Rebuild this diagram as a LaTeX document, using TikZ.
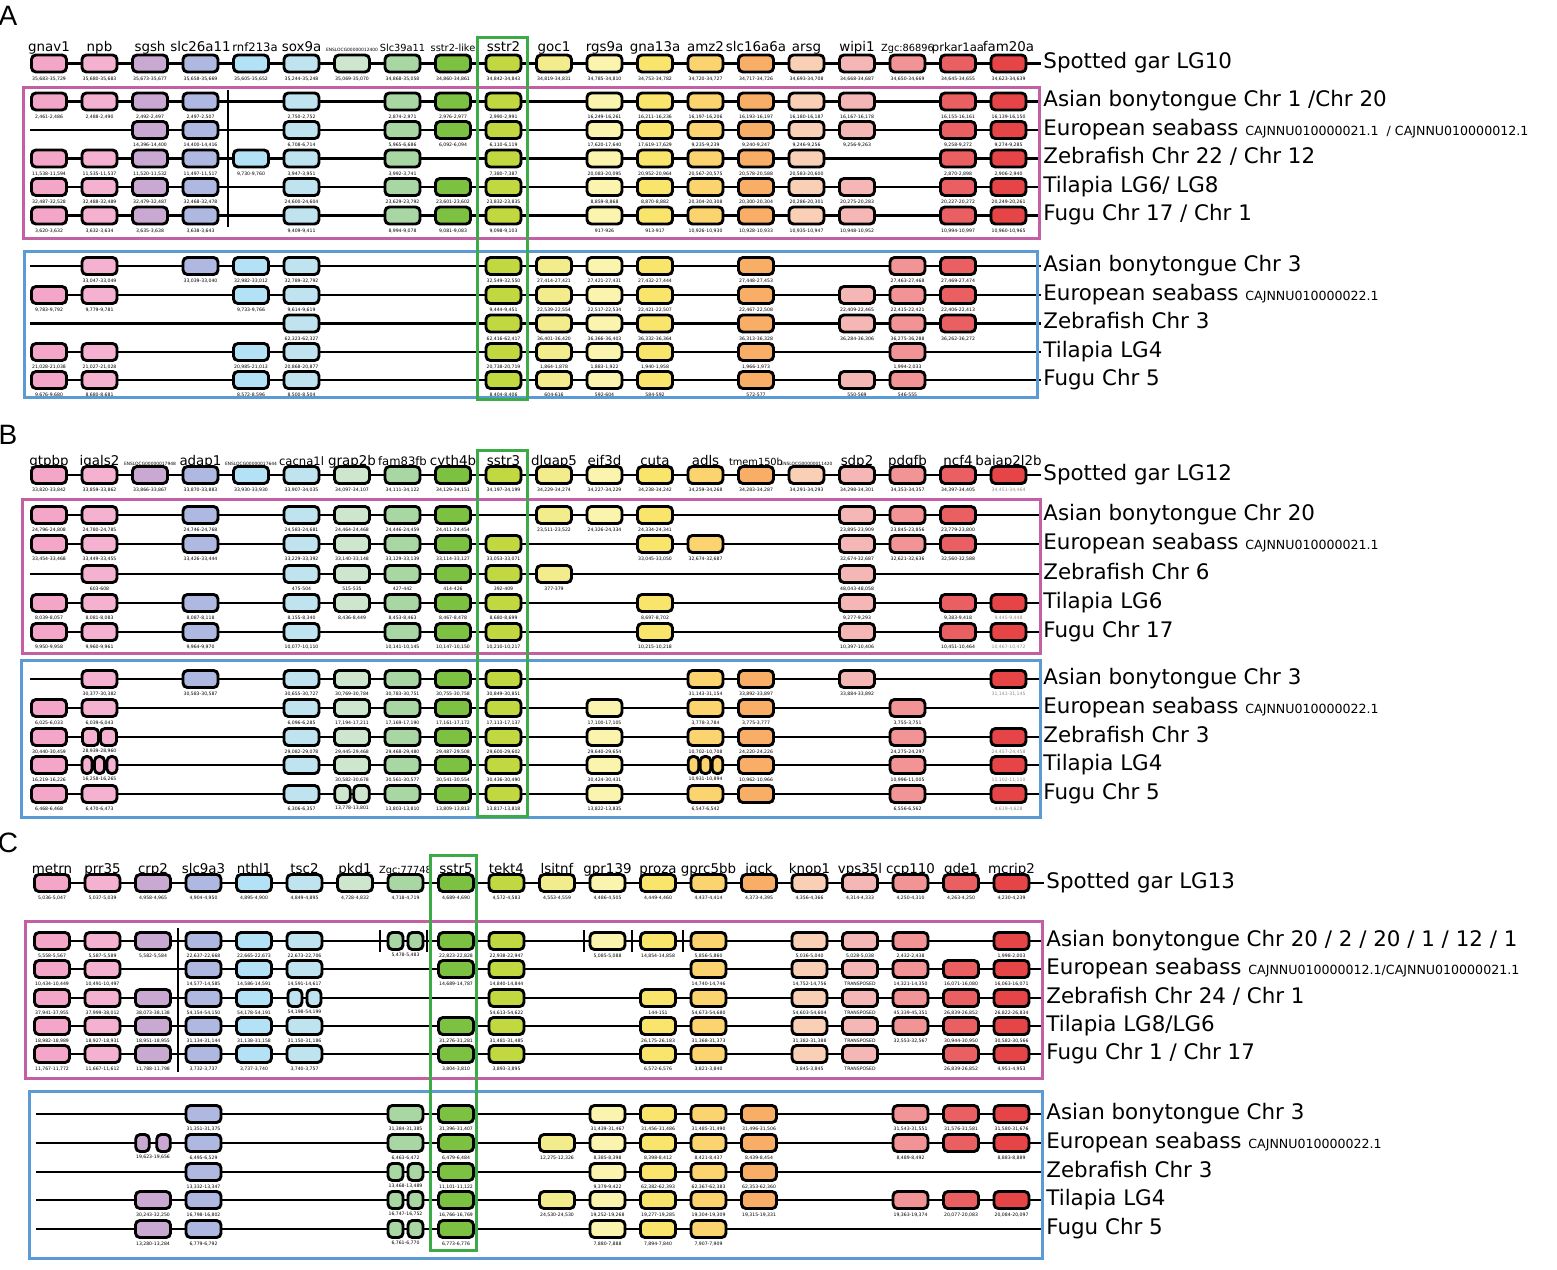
\documentclass[tikz,border=0pt]{standalone}
\usepackage{fontspec}
\setmainfont{DejaVu Sans}
\newfontfamily\letterfont{Liberation Sans}
\usetikzlibrary{positioning}

% one colour per gene column, from left to right
\definecolor{g0}{HTML}{F4A6C9}
\definecolor{g1}{HTML}{F5B1D0}
\definecolor{g2}{HTML}{C9A8D2}
\definecolor{g3}{HTML}{AFB8E0}
\definecolor{g4}{HTML}{B3E2F7}
\definecolor{g5}{HTML}{BFE3EF}
\definecolor{g6}{HTML}{CDE6CD}
\definecolor{g7}{HTML}{A8D7A3}
\definecolor{g8}{HTML}{7DC142}
\definecolor{g9}{HTML}{C2D840}
\definecolor{g10}{HTML}{F3EC8C}
\definecolor{g11}{HTML}{FAF4AE}
\definecolor{g12}{HTML}{F9E46C}
\definecolor{g13}{HTML}{FBD36F}
\definecolor{g14}{HTML}{F8AE66}
\definecolor{g15}{HTML}{F9CFB6}
\definecolor{g16}{HTML}{F5B7B5}
\definecolor{g17}{HTML}{F29496}
\definecolor{g18}{HTML}{EA6062}
\definecolor{g19}{HTML}{E64547}
\definecolor{teleost}{HTML}{C35FA5}
\definecolor{dupl}{HTML}{5B9BD5}
\definecolor{sstr}{HTML}{3DAA48}

\newcommand{\gmd}{\fontsize{5.8}{6}\selectfont}
\newcommand{\gsm}{\fontsize{4.9}{5}\selectfont}
\newcommand{\gxs}{\fontsize{2.2}{2.4}\selectfont}
\newcommand{\gry}{\color{black!45}}
\newcommand{\idfont}{\fontsize{6.3}{7}\selectfont}

\tikzset{
  gene/.style={draw, line width=1.45pt, rounded corners=2.2pt, minimum width=17.5pt, minimum height=8.5pt, inner sep=0pt},
  locus/.style={font=\fontsize{2.3}{2.5}\selectfont, inner sep=0pt},
  gname/.style={font=\fontsize{6.7}{7}\selectfont, inner sep=0pt, anchor=base},
  species/.style={font=\fontsize{10.7}{12}\selectfont, anchor=west, inner sep=1pt, text height=0.76em, text depth=0.22em},
  chrline/.style={line width=1.3pt},
  frame/.style={line width=1.5pt},
  panel/.style={font=\letterfont\fontsize{14}{14}\selectfont, inner sep=0pt}
}

% boxes of one row: row name, y, list of column/locus
\newcommand{\generow}[3]{%
  \foreach \c/\p in {#3}{%
    \node[gene, fill=g\c] (#1-\c) at ({\colzero+50.5*\c},#2) {};
    \node[locus, below=1.6pt of #1-\c] {\p};
  }}
% a whole row: name, y, species, list
\newcommand{\synrow}[4]{%
  \coordinate (#1-s) at (\rowstart,#2);
  \node[species] (#1-l) at (\labx,#2) {#3};
  \draw[chrline] (#1-s) -- (#1-l.west);
  \generow{#1}{#2}{#4}}
% one gene cut into parts: name, column, y, locus, list of offset/width
\newcommand{\splitgene}[5]{%
  \foreach \dx/\w [count=\k] in {#5}{%
    \node[gene, fill=g#2, minimum width=\w*0.5pt] (#1-\k) at ({\colzero+50.5*#2+(\dx)},#3) {};}
  \node[locus] (#1-p) at ({\colzero+50.5*#2},#3+14) {#4};}

\begin{document}
\begin{tikzpicture}[x=0.5pt, y=-0.5pt]
\useasboundingbox (0,0) rectangle (1557,1269);

%% panel A
\def\colzero{49}\def\rowstart{30}\def\labx{1041}
\node[panel] (A) at (8,16) {A};
\foreach \c/\g in {0/gnav1,1/npb,2/sgsh,3/slc26a11,5/sox9a,6/{\gxs ENSLOCG00000012400},7/{\gsm Slc39a11},8/{\gsm sstr2-like},9/sstr2,10/goc1,11/rgs9a,12/gna13a,13/amz2,14/slc16a6a,15/arsg,16/wipi1,17/{\gsm Zgc:86896},18/{\gmd prkar1aa},19/fam20a}
  \node[gname] (Ah-n\c) at ({\colzero+50.5*\c},51) {\g};
\node[gname, font=\gmd] (Ah-n4) at (255,51) {rnf213a};
\synrow{Ah}{63.5}{Spotted gar LG10}{0/{35,683-35,729},1/{35,680-35,683},2/{35,673-35,677},3/{35,658-35,669},4/{35,605-35,652},5/{35,244-35,248},6/{35,069-35,070},7/{34,868-35,058},8/{34,860-34,861},9/{34,842-34,843},10/{34,819-34,831},11/{34,785-34,810},12/{34,753-34,782},13/{34,720-34,727},14/{34,717-34,726},15/{34,693-34,708},16/{34,668-34,687},17/{34,650-34,669},18/{34,645-34,655},19/{34,623-34,639}}
\synrow{Am1}{101.5}{Asian bonytongue Chr 1 /Chr 20}{0/{2,461-2,486},1/{2,488-2,490},2/{2,492-2,497},3/{2,497-2,507},5/{2,750-2,752},7/{2,874-2,971},8/{2,976-2,977},9/{2,990-2,991},11/{16,249-16,261},12/{16,211-16,236},13/{16,197-16,206},14/{16,193-16,197},15/{16,180-16,187},16/{16,167-16,178},18/{16,155-16,161},19/{16,139-16,150}}
\synrow{Am2}{130}{European seabass {\idfont CAJNNU010000021.1 \ / CAJNNU010000012.1}}{2/{14,396-14,400},3/{14,400-14,416},5/{6,708-6,714},7/{5,965-6,686},8/{6,092-6,094},9/{6,110-6,119},11/{17,620-17,640},12/{17,619-17,629},13/{9,235-9,239},14/{9,240-9,247},15/{9,246-9,256},16/{9,256-9,263},18/{9,258-9,272},19/{9,274-9,285}}
\synrow{Am3}{158.5}{Zebrafish Chr 22 / Chr 12}{0/{11,538-11,594},1/{11,535-11,537},2/{11,520-11,532},3/{11,497-11,517},4/{9,730-9,760},5/{3,947-3,951},7/{3,992-3,741},9/{7,380-7,387},11/{20,083-20,095},12/{20,952-20,964},13/{20,567-20,575},14/{20,578-20,588},15/{20,583-20,600},18/{2,870-2,898},19/{2,906-2,940}}
\synrow{Am4}{187}{Tilapia LG6/ LG8}{0/{32,487-32,528},1/{32,488-32,489},2/{32,479-32,487},3/{32,468-32,478},5/{24,600-24,604},7/{23,629-23,792},8/{23,601-23,602},9/{23,832-23,835},11/{8,859-8,868},12/{8,870-8,882},13/{20,304-20,308},14/{20,300-20,304},15/{20,286-20,301},16/{20,275-20,283},18/{20,227-20,272},19/{20,249-20,261}}
\synrow{Am5}{215.5}{Fugu Chr 17 / Chr 1}{0/{3,620-3,632},1/{3,632-3,634},2/{3,635-3,638},3/{3,638-3,643},5/{9,409-9,411},7/{8,994-9,078},8/{9,081-9,083},9/{9,098-9,103},11/{917-926},12/{913-917},13/{10,926-10,930},14/{10,928-10,933},15/{10,935-10,947},16/{10,948-10,952},18/{10,994-10,997},19/{10,960-10,965}}
\draw[chrline] (228,90) -- (228,227);
\synrow{Ab1}{266}{Asian bonytongue Chr 3}{1/{33,047-33,049},3/{33,039-33,040},4/{32,982-33,012},5/{32,789-32,792},9/{32,549-32,550},10/{27,414-27,421},11/{27,421-27,431},12/{27,432-27,444},14/{27,448-27,453},17/{27,463-27,468},18/{27,469-27,474}}
\synrow{Ab2}{295}{European seabass {\idfont CAJNNU010000022.1}}{0/{9,783-9,792},1/{9,779-9,781},4/{9,733-9,766},5/{9,614-9,619},9/{9,444-9,451},10/{22,539-22,554},11/{22,517-22,534},12/{22,421-22,507},14/{22,467-22,508},16/{22,409-22,465},17/{22,415-22,421},18/{22,406-22,413}}
\synrow{Ab3}{323.5}{Zebrafish Chr 3}{5/{62,323-62,327},9/{62,416-62,417},10/{36,401-36,420},11/{36,366-36,403},12/{36,332-36,364},14/{36,313-36,328},16/{36,284-36,306},17/{36,275-36,288},18/{36,262-36,272}}
\synrow{Ab4}{352}{Tilapia LG4}{0/{21,028-21,038},1/{21,027-21,028},4/{20,985-21,013},5/{20,868-20,877},9/{20,738-20,719},10/{1,864-1,878},11/{1,883-1,922},12/{1,940-1,958},14/{1,966-1,973},17/{1,994-2,033}}
\synrow{Ab5}{380}{Fugu Chr 5}{0/{9,676-9,680},1/{8,680-8,681},4/{8,572-8,596},5/{8,500-8,504},9/{8,404-8,406},10/{604-616},11/{592-604},12/{584-592},14/{572-577},16/{550-569},17/{546-555}}
\draw[frame, teleost] (23,87) rectangle (1039,238);
\draw[frame, dupl] (24,251) rectangle (1037,397);
\draw[frame, sstr] (477,37) rectangle (527,399);

%% panel B
\node[panel] (B) at (8,435) {B};
\foreach \c/\g in {0/gtpbp,1/igals2,2/{\gxs ENSLOCG00000017948},3/adap1,4/{\gxs ENSLOCG00000017644},5/{\gmd cacna1l},6/grap2b,7/{\gmd fam83fb},8/cyth4b,9/sstr3,10/dlgap5,11/eif3d,12/cuta,13/adls,14/{\gsm tmem150b},15/{\gxs ENSLOCG00000011420},16/sdp2,17/pdgfb,18/ncf4,19/baiap2l2b}
  \node[gname] (Bh-n\c) at ({\colzero+50.5*\c},465) {\g};
\synrow{Bh}{475}{Spotted gar LG12}{0/{33,820-33,842},1/{33,859-33,862},2/{33,866-33,867},3/{33,870-33,883},4/{33,930-33,930},5/{33,907-34,035},6/{34,097-34,107},7/{34,111-34,122},8/{34,129-34,151},9/{34,197-34,199},10/{34,229-34,274},11/{34,227-34,229},12/{34,238-34,242},13/{34,259-34,268},14/{34,283-34,287},15/{34,291-34,293},16/{34,298-34,301},17/{34,353-34,357},18/{34,397-34,405},19/{\gry 34,451-34,464}}
\synrow{Bm1}{515}{Asian bonytongue Chr 20}{0/{24,796-24,808},1/{24,780-24,785},3/{24,746-24,768},5/{24,583-24,681},6/{24,464-24,468},7/{24,446-24,459},8/{24,411-24,454},10/{23,511-23,522},11/{24,326-24,334},12/{24,334-24,341},16/{23,895-23,909},17/{23,845-23,856},18/{23,779-23,800}}
\synrow{Bm2}{544}{European seabass {\idfont CAJNNU010000021.1}}{0/{33,454-33,468},1/{33,449-33,455},3/{33,426-33,444},5/{33,229-33,392},6/{33,140-33,148},7/{33,129-33,139},8/{33,114-33,127},9/{33,053-33,071},12/{33,045-33,050},13/{32,674-32,687},16/{32,674-32,687},17/{32,621-32,636},18/{32,560-32,588}}
\synrow{Bm3}{574}{Zebrafish Chr 6}{1/{603-608},5/{475-504},6/{515-535},7/{427-442},8/{414-426},9/{392-409},10/{377-379},16/{48,043-48,058}}
\synrow{Bm4}{603}{Tilapia LG6}{0/{8,039-8,057},1/{8,081-8,083},3/{8,087-8,118},5/{8,155-8,340},6/{8,436-8,449},7/{8,453-8,463},8/{8,467-8,478},9/{8,680-8,699},12/{8,697-8,702},16/{9,277-9,293},18/{9,383-9,418},19/{\gry 9,445-9,448}}
\synrow{Bm5}{632}{Fugu Chr 17}{0/{9,950-9,958},1/{9,960-9,961},3/{9,964-9,970},5/{10,077-10,110},7/{10,141-10,145},8/{10,147-10,150},9/{10,210-10,217},12/{10,215-10,218},16/{10,397-10,406},18/{10,451-10,464},19/{\gry 10,467-10,472}}
\synrow{Bb1}{679}{Asian bonytongue Chr 3}{1/{30,377-30,382},3/{30,583-30,587},5/{30,655-30,727},6/{30,769-30,784},7/{30,783-30,751},8/{30,755-30,758},9/{30,849-30,851},13/{31,143-31,154},14/{33,892-33,897},16/{33,884-33,892},19/{\gry 31,141-31,145}}
\synrow{Bb2}{708}{European seabass {\idfont CAJNNU010000022.1}}{0/{6,025-6,033},1/{6,039-6,043},5/{6,096-6,285},6/{17,194-17,211},7/{17,169-17,190},8/{17,161-17,172},9/{17,113-17,137},11/{17,100-17,105},13/{3,778-3,784},14/{3,775-3,777},17/{3,755-3,751}}
\synrow{Bb3}{737}{Zebrafish Chr 3}{0/{30,440-30,459},5/{29,082-29,078},6/{29,445-29,468},7/{29,468-29,480},8/{29,487-29,508},9/{29,600-29,602},11/{29,640-29,654},13/{10,702-10,708},14/{24,220-24,226},17/{24,275-24,297},19/{\gry 24,457-24,458}}
\splitgene{Bb3-1}{1}{737}{28,939-28,960}{-9/16,9/16}
\synrow{Bb4}{765}{Tilapia LG4}{0/{16,219-16,226},5/{},6/{30,582-30,678},7/{30,561-30,577},8/{30,541-30,554},9/{30,436-30,490},11/{30,424-30,431},14/{10,962-10,966},17/{10,996-11,005},19/{\gry 11,102-11,110}}
\splitgene{Bb4-1}{1}{765}{16,258-16,265}{-12.5/10,0/10,12.5/10}
\splitgene{Bb4-13}{13}{765}{10,931-10,894}{-12/10.5,0/10.5,12/10.5}
\synrow{Bb5}{794}{Fugu Chr 5}{0/{6,468-6,468},1/{6,470-6,473},5/{6,306-6,357},7/{13,803-13,810},8/{13,809-13,813},9/{13,817-13,818},11/{13,822-13,835},13/{6,547-6,542},14/{},17/{6,556-6,562},19/{\gry 4,619-4,628}}
\splitgene{Bb5-6}{6}{794}{13,778-13,801}{-9.5/15.5,9.5/15.5}
\draw[frame, teleost] (22,499) rectangle (1040,653);
\draw[frame, dupl] (21,660) rectangle (1040,817);
\draw[frame, sstr] (477,450) rectangle (527,816);

%% panel C
\def\colzero{52}\def\rowstart{33}\def\labx{1044}
\node[panel] (C) at (8,843) {C};
\foreach \c/\g in {0/metrn,1/prr35,2/crp2,3/slc9a3,4/nthl1,5/tsc2,6/pkd1,7/{\gsm Zgc:77748},8/sstr5,9/tekt4,10/lsitnf,11/gpr139,12/proza,13/gprc5bb,14/iqck,15/knop1,16/vps35l,17/ccp110,18/gde1,19/mcrip2}
  \node[gname] (Ch-n\c) at ({\colzero+50.5*\c},873) {\g};
\synrow{Ch}{883}{Spotted gar LG13}{0/{5,036-5,047},1/{5,037-5,039},2/{4,958-4,965},3/{4,904-4,950},4/{4,895-4,900},5/{4,849-4,895},6/{4,728-4,832},7/{4,718-4,719},8/{4,689-4,690},9/{4,572-4,583},10/{4,553-4,559},11/{4,486-4,505},12/{4,449-4,460},13/{4,437-4,414},14/{4,373-4,395},15/{4,356-4,366},16/{4,314-4,333},17/{4,250-4,310},18/{4,263-4,250},19/{4,230-4,239}}
\synrow{Cm1}{941}{Asian bonytongue Chr 20 / 2 / 20 / 1 / 12 / 1}{0/{5,558-5,567},1/{5,587-5,589},2/{5,582-5,584},3/{22,637-22,668},4/{22,665-22,673},5/{22,673-22,706},8/{22,823-22,828},9/{22,938-22,947},11/{5,085-5,088},12/{14,854-14,858},13/{5,856-5,860},15/{5,036-5,040},16/{5,028-5,038},17/{2,432-2,438},19/{1,998-2,003}}
\splitgene{Cm1-7}{7}{941}{5,478-5,483}{-10/15,10/15}
\foreach \x in {380,427,584,632,683}
  \draw[chrline] (\x,930) -- (\x,952);
\synrow{Cm2}{969}{European seabass {\idfont CAJNNU010000012.1/CAJNNU010000021.1}}{0/{10,434-10,449},1/{10,491-10,497},3/{14,577-14,585},4/{14,586-14,591},5/{14,591-14,617},8/{14,689-14,787},9/{14,840-14,844},13/{14,740-14,746},15/{14,752-14,756},16/TRANSPOSED,17/{14,321-14,350},18/{16,071-16,080},19/{16,063-16,071}}
\synrow{Cm3}{998}{Zebrafish Chr 24 / Chr 1}{0/{37,941-37,955},1/{37,999-38,012},2/{38,073-38,138},3/{54,154-54,150},4/{54,178-54,191},9/{54,613-54,622},12/{144-151},13/{54,673-54,680},15/{54,603-54,604},16/TRANSPOSED,17/{45,339-45,351},18/{26,839-26,852},19/{26,822-26,834}}
\splitgene{Cm3-5}{5}{998}{54,198-54,199}{-9.5/14,9.5/14}
\synrow{Cm4}{1026}{Tilapia LG8/LG6}{0/{18,982-18,989},1/{18,927-18,931},2/{18,951-18,955},3/{31,134-31,144},4/{31,138-31,158},5/{31,150-31,186},8/{31,276-31,281},9/{31,481-31,485},12/{26,175-26,183},13/{31,368-31,373},15/{31,382-31,388},16/TRANSPOSED,17/{32,553-32,567},18/{30,944-30,950},19/{30,582-30,566}}
\synrow{Cm5}{1054}{Fugu Chr 1 / Chr 17}{0/{11,767-11,772},1/{11,667-11,612},2/{11,788-11,798},3/{3,732-3,737},4/{3,737-3,740},5/{3,740-3,757},8/{3,804-3,810},9/{3,893-3,895},12/{6,572-6,576},13/{3,821-3,840},15/{3,845-3,845},16/TRANSPOSED,18/{26,839-26,852},19/{4,951-4,953}}
\draw[chrline] (178,928) -- (178,1072);
\def\rowstart{36}
\synrow{Cb1}{1114}{Asian bonytongue Chr 3}{3/{31,351-31,375},7/{31,384-31,385},8/{31,396-31,407},11/{31,439-31,467},12/{31,456-31,486},13/{31,485-31,490},14/{31,496-31,506},17/{31,543-31,551},18/{31,576-31,581},19/{31,580-31,676}}
\synrow{Cb2}{1143}{European seabass {\idfont CAJNNU010000022.1}}{3/{6,495-6,529},7/{6,463-6,472},8/{6,479-6,484},10/{12,275-12,326},11/{8,385-8,398},12/{8,398-8,412},13/{8,421-8,437},14/{8,439-8,454},17/{8,489-8,492},18/{},19/{8,883-8,889}}
\splitgene{Cb2-2}{2}{1143}{19,623-19,656}{-10.5/13.5,10.5/13.5}
\synrow{Cb3}{1172}{Zebrafish Chr 3}{3/{13,332-13,347},8/{11,101-11,122},11/{9,379-9,422},12/{62,382-62,393},13/{62,367-62,383},14/{62,353-62,360}}
\splitgene{Cb3-7}{7}{1172}{13,468-13,489}{-10/15,10/15}
\synrow{Cb4}{1200}{Tilapia LG4}{2/{30,243-32,250},3/{16,798-16,802},8/{16,766-16,769},10/{24,530-24,530},11/{19,252-19,268},12/{19,277-19,285},13/{19,304-19,309},14/{19,315-19,331},17/{19,363-19,374},18/{20,077-20,083},19/{20,084-20,097}}
\splitgene{Cb4-7}{7}{1200}{16,747-16,752}{-10/15,10/15}
\synrow{Cb5}{1229}{Fugu Chr 5}{2/{13,280-13,284},3/{6,779-6,792},8/{6,773-6,776},11/{7,880-7,888},12/{7,894-7,840},13/{7,907-7,909}}
\splitgene{Cb5-7}{7}{1229}{6,761-6,770}{-10/15,10/15}
\draw[frame, teleost] (25,921) rectangle (1042,1078);
\draw[frame, dupl] (29,1091) rectangle (1042,1258);
\draw[frame, sstr] (430,855) rectangle (476,1250);
\end{tikzpicture}
\end{document}
